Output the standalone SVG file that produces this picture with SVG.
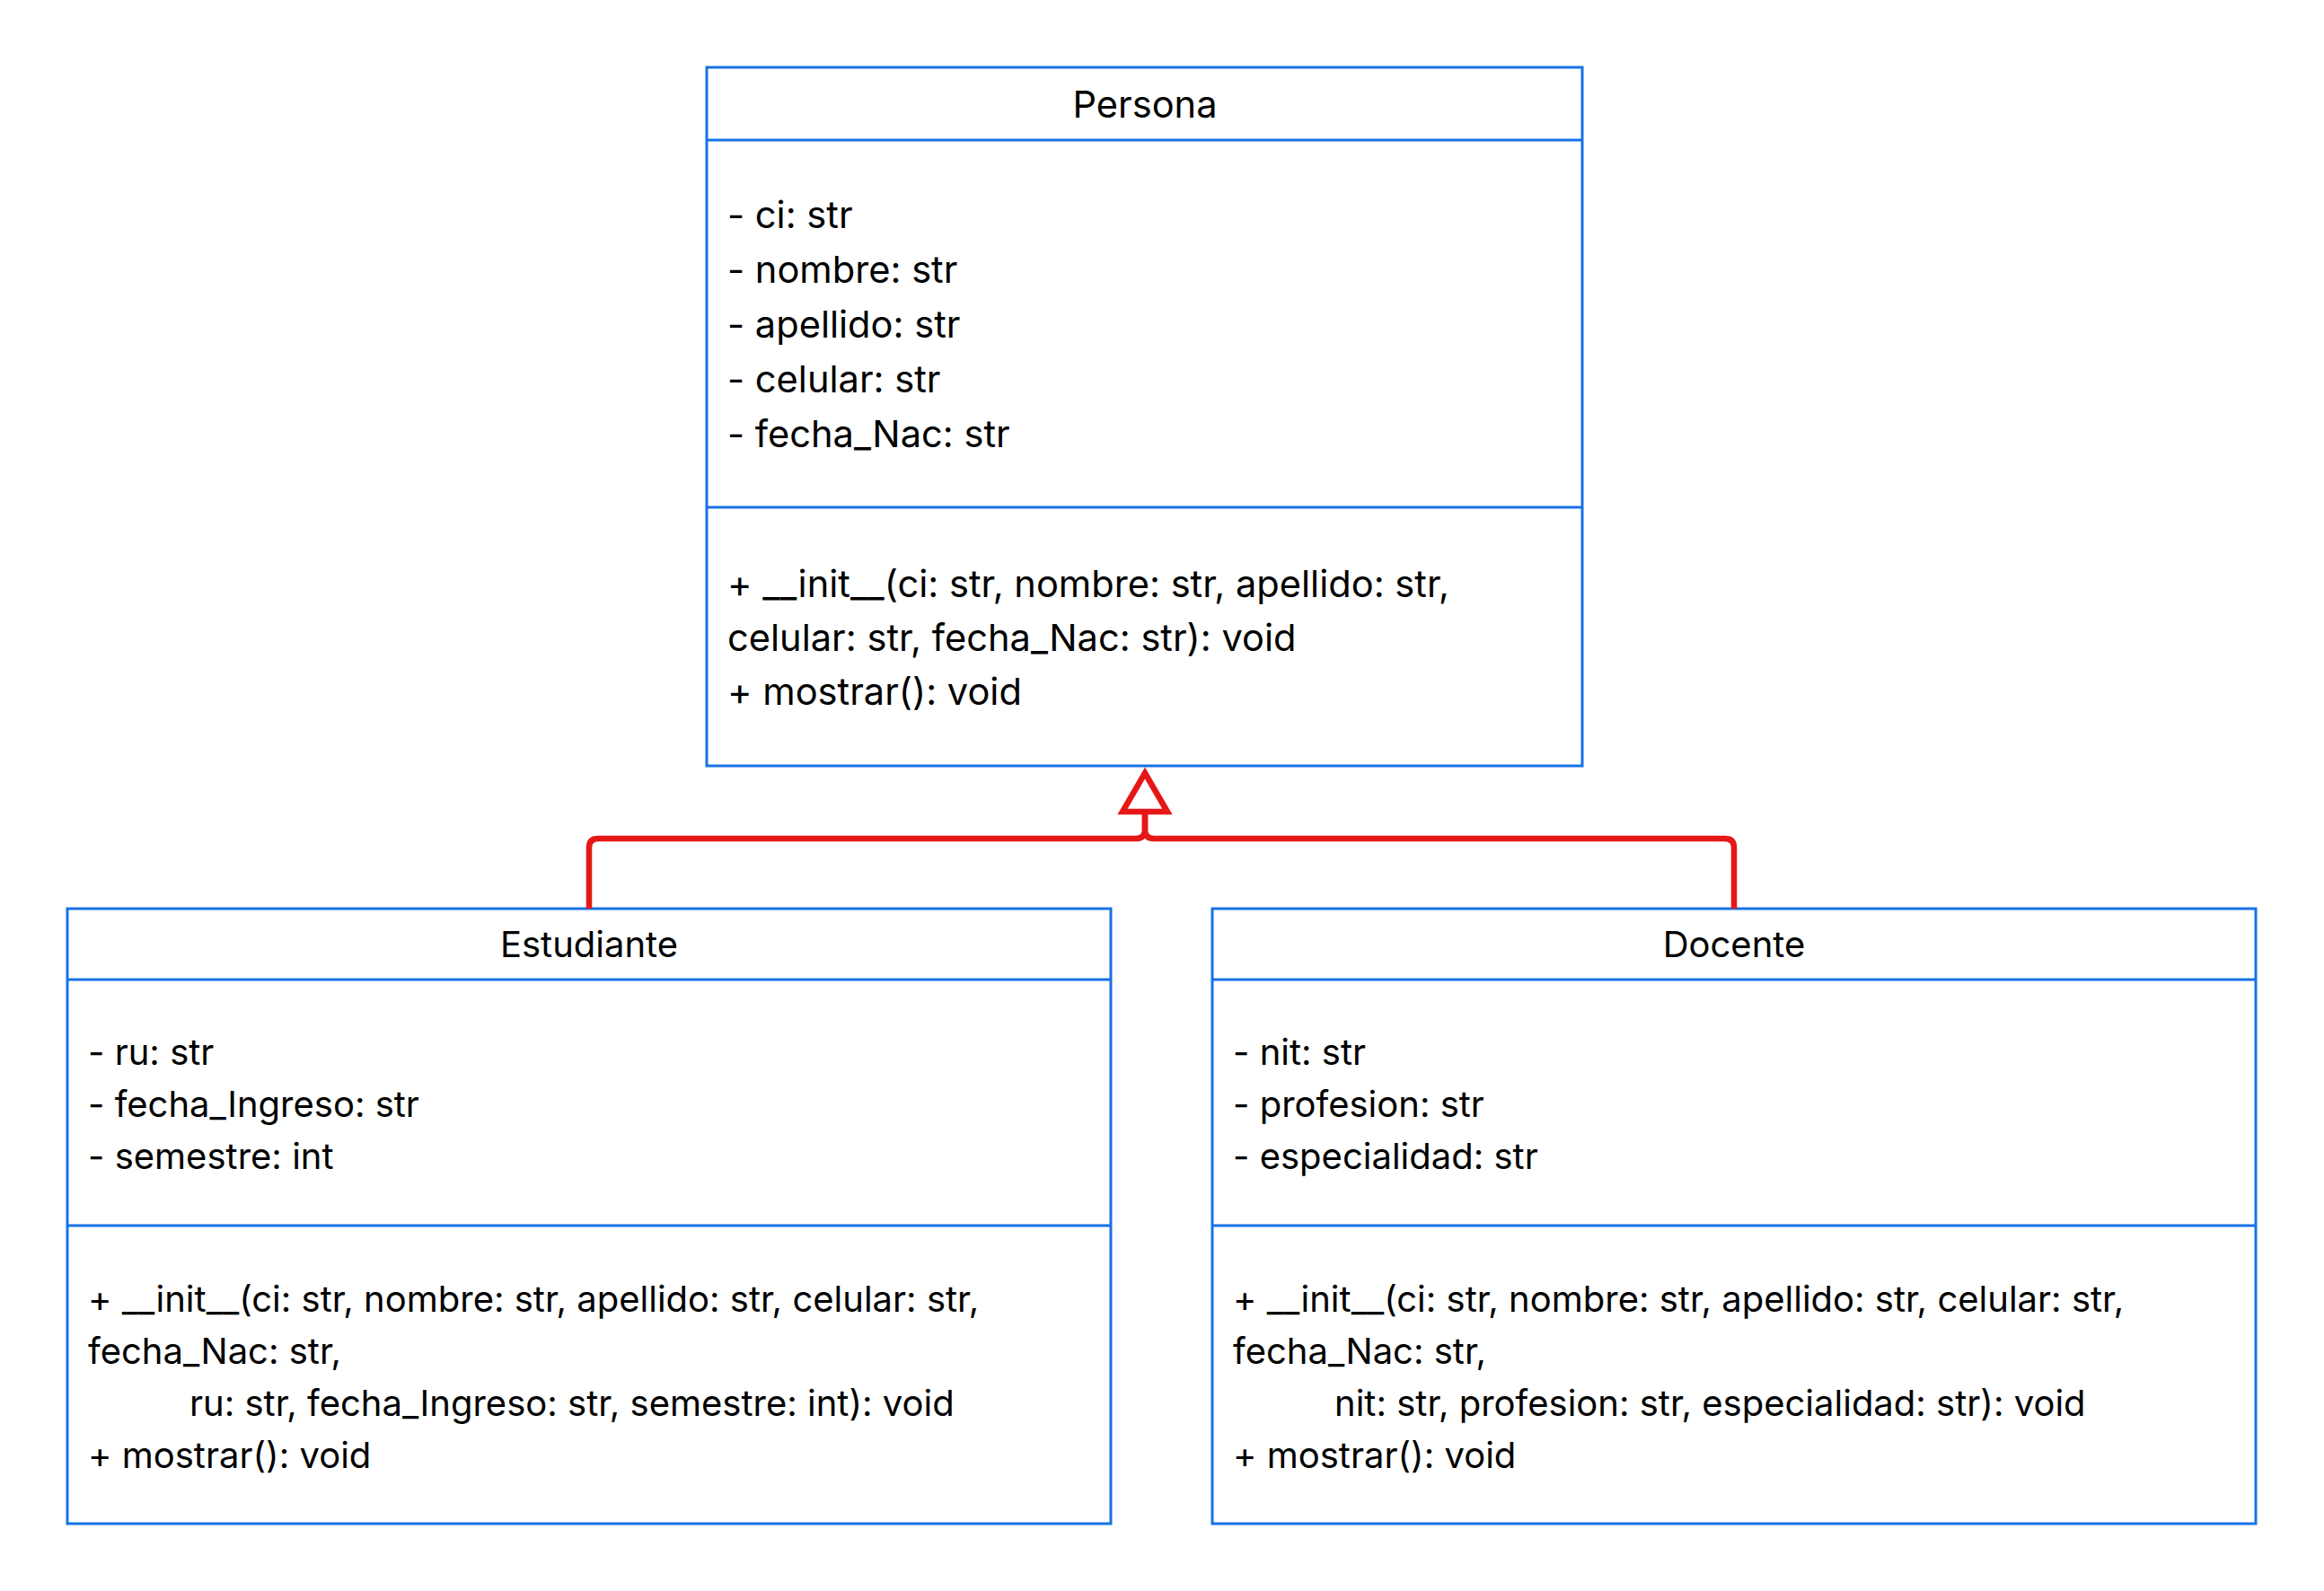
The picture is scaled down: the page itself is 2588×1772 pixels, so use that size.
<svg xmlns="http://www.w3.org/2000/svg" width="2588" height="1772" viewBox="0 0 2588 1772">
<style>
.box{fill:#fff;stroke:#1672e6;stroke-width:3}
.div{stroke:#1672e6;stroke-width:3}
text{font-family:Inter,"Noto Sans","Liberation Sans",sans-serif;font-size:40px;fill:#000}
#Persona text{font-size:41.6px}
.t{text-anchor:middle}
.edge{fill:none;stroke:#e61717;stroke-width:6.5;stroke-linejoin:round}
.head{fill:#fff;stroke:#e61717;stroke-width:6.5;stroke-linejoin:miter}
</style>
<rect width="2588" height="1772" fill="#fff"/>
<g id="Persona">
<rect class="box" x="787" y="75" width="975" height="778"/>
<line class="div" x1="787" y1="156" x2="1762" y2="156"/>
<line class="div" x1="787" y1="565" x2="1762" y2="565"/>
<text class="t" x="1275" y="131">Persona</text>
<text x="810" y="254">- ci: str</text>
<text x="810" y="315">- nombre: str</text>
<text x="810" y="376">- apellido: str</text>
<text x="810" y="437">- celular: str</text>
<text x="810" y="498">- fecha_Nac: str</text>
<text x="810" y="665">+ __init__(ci: str, nombre: str, apellido: str,</text>
<text x="810" y="725">celular: str, fecha_Nac: str): void</text>
<text x="810" y="785">+ mostrar(): void</text>
</g>
<g id="Estudiante">
<rect class="box" x="75" y="1012" width="1162" height="685"/>
<line class="div" x1="75" y1="1091" x2="1237" y2="1091"/>
<line class="div" x1="75" y1="1365" x2="1237" y2="1365"/>
<text class="t" x="656" y="1066">Estudiante</text>
<text x="98" y="1186">- ru: str</text>
<text x="98" y="1244">- fecha_Ingreso: str</text>
<text x="98" y="1302">- semestre: int</text>
<text x="98" y="1461">+ __init__(ci: str, nombre: str, apellido: str, celular: str,</text>
<text x="98" y="1519">fecha_Nac: str,</text>
<text x="211" y="1577">ru: str, fecha_Ingreso: str, semestre: int): void</text>
<text x="98" y="1635">+ mostrar(): void</text>
</g>
<g id="Docente">
<rect class="box" x="1350" y="1012" width="1162" height="685"/>
<line class="div" x1="1350" y1="1091" x2="2512" y2="1091"/>
<line class="div" x1="1350" y1="1365" x2="2512" y2="1365"/>
<text class="t" x="1931" y="1066">Docente</text>
<text x="1373" y="1186">- nit: str</text>
<text x="1373" y="1244">- profesion: str</text>
<text x="1373" y="1302">- especialidad: str</text>
<text x="1373" y="1461">+ __init__(ci: str, nombre: str, apellido: str, celular: str,</text>
<text x="1373" y="1519">fecha_Nac: str,</text>
<text x="1486" y="1577">nit: str, profesion: str, especialidad: str): void</text>
<text x="1373" y="1635">+ mostrar(): void</text>
</g>
<g id="connectors">
<path class="edge" d="M656 1012 V944 Q656 934 666 934 H1265 Q1275 934 1275 924 V904"/>
<path class="edge" d="M1931 1012 V944 Q1931 934 1921 934 H1285 Q1275 934 1275 924 V904"/>
<path class="head" d="M1275 861 L1300 904 L1250 904 Z"/>
</g>
</svg>
